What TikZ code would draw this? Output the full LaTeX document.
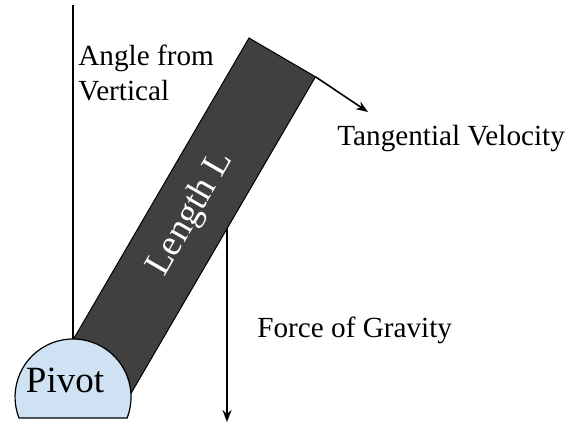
\documentclass[tikz,border=0pt]{standalone}
\usepackage{fontspec}
\setmainfont{Liberation Serif}
\usetikzlibrary{arrows.meta}
\definecolor{rodgray}{RGB}{64,64,64}
\definecolor{pivotblue}{RGB}{207,226,243}
\begin{document}
\begin{tikzpicture}[x=0.5pt,y=-0.5pt,
    labeltext/.style={font=\fontsize{14.6}{17.5}\selectfont, inner sep=0pt},
    bigtext/.style={font=\fontsize{18.5}{21}\selectfont, inner sep=0pt},
    forcearrow/.style={line width=0.8pt, -{Stealth[length=6pt,width=4.5pt]}}]
    \useasboundingbox (0,0) rectangle (568,424);
    % Rod corners
    \coordinate (rodTL) at (249,38);
    \coordinate (rodTR) at (315.5,76.8);
    \coordinate (rodBR) at (128.2,398.2);
    \coordinate (rodBL) at (61.7,359.4);
    \draw[fill=rodgray, line width=0.5pt] (rodTL) -- (rodTR) -- (rodBR) -- (rodBL) -- cycle;
    \node[bigtext, text=white, rotate=60] (length) at (191,214) {Length L};
    % Pivot
    \coordinate (pivottop) at (73,339);
    \draw[fill=pivotblue, line width=0.6pt] (19,418) arc[start angle=201.25, end angle=-21.25, radius=29pt] -- cycle;
    \node[bigtext, anchor=base] (pivot) at (65,392) {Pivot};
    % Vertical reference line
    \coordinate (vtop) at (73,5);
    \draw[line width=1pt] (vtop) -- (pivottop);
    \node[labeltext, anchor=north west, align=left] (angle) at (78,45) {Angle from\\Vertical};
    % Tangential velocity
    \coordinate (velend) at (368,112);
    \draw[forcearrow] (rodTR) -- (velend);
    \node[labeltext, anchor=base west] (vel) at (337,145) {Tangential Velocity};
    % Gravity
    \coordinate (gravstart) at (227,228.6);
    \coordinate (gravend) at (227,422);
    \draw[forcearrow] (gravstart) -- (gravend);
    \node[labeltext, anchor=base west] (grav) at (257,337) {Force of Gravity};
\end{tikzpicture}
\end{document}
